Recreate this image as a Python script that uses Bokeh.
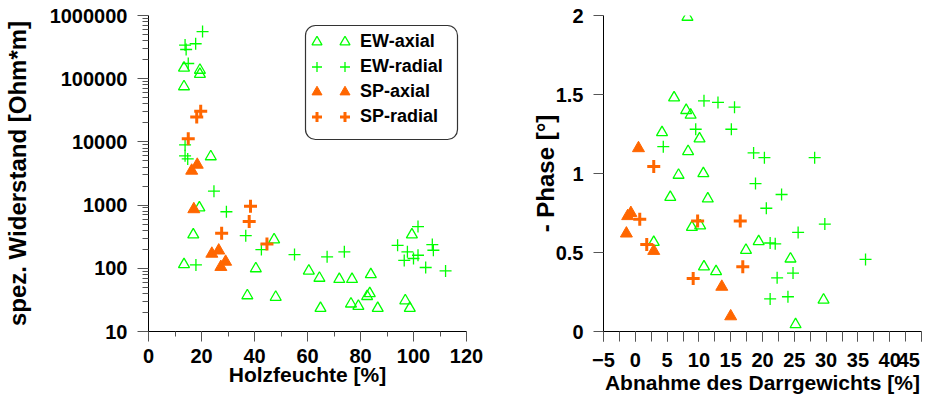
from bokeh.plotting import figure
from bokeh.layouts import row
from bokeh.models import (Legend, LegendItem, BoxAnnotation, SingleIntervalTicker,
                          NumeralTickFormatter, Range1d, FixedTicker)
from bokeh.embed import file_html
from bokeh.resources import INLINE

# ---------------- data: left chart (Holzfeuchte [%] vs spez. Widerstand [Ohm*m]) -------------
ew_axial_moist = [13.4, 19.4, 19.4, 13.4, 23.5, 19.2, 16.9, 47.4, 13.4, 40.5, 60.5, 37.3, 48.0,
                  99.4, 64.5, 72.0, 76.8, 83.9, 83.5, 82.5, 64.9, 76.4, 79.2, 86.5, 96.9, 98.6]
ew_axial_res = [148000, 137000, 118000, 75000, 5860, 910, 340, 284, 115, 99, 91, 37, 35,
                340, 70, 67, 67, 80, 40, 36, 23.4, 27.4, 25.2, 23.4, 30.8, 23.4]

ew_radial_moist = [20.4, 13.8, 17.8, 14.2, 15.0, 13.8, 13.8, 14.8, 24.7, 29.4, 36.7, 42.6, 55.1,
                   17.9, 101.7, 94.0, 107.1, 107.5, 97.7, 73.9, 67.4, 101.7, 100.0, 96.5, 104.6, 112.1]
ew_radial_res = [556000, 340000, 357000, 290000, 174000, 8950, 6030, 5370, 1660, 785, 328, 198, 165,
                 113, 457, 231, 237, 193, 182, 182, 152, 161, 143, 133, 103, 91]

sp_axial_moist = [18.4, 16.3, 17.1, 23.9, 26.5, 29.1, 27.3]
sp_axial_res = [4350, 3500, 860, 170, 191, 127, 105]

sp_radial_moist = [19.7, 18.2, 15.0, 38.5, 38.0, 27.6, 44.7]
sp_radial_res = [30500, 24800, 11200, 960, 550, 360, 243]

# ---------------- data: right chart (Abnahme des Darrgewichts [%] vs - Phase [°]) ------------
ew_axial_loss = [8.2, 6.1, 8.0, 8.7, 4.2, 10.1, 8.3, 6.8, 10.7, 5.5, 11.4, 8.9, 10.2, 2.9,
                 17.4, 19.4, 10.8, 12.7, 24.4, 29.6, 25.2]
ew_axial_phase = [1.99, 1.48, 1.40, 1.37, 1.26, 1.22, 1.14, 0.99, 1.00, 0.85, 0.84, 0.66, 0.67, 0.565,
                  0.515, 0.57, 0.41, 0.38, 0.46, 0.20, 0.044]

ew_radial_loss = [10.8, 13.0, 15.6, 9.5, 15.1, 4.4, 18.6, 20.3, 28.2, 18.9, 23.0, 20.6, 29.8,
                  25.6, 21.2, 22.0, 36.2, 22.3, 24.8, 21.2, 24.0]
ew_radial_phase = [1.46, 1.45, 1.42, 1.28, 1.28, 1.17, 1.13, 1.10, 1.10, 0.936, 0.867, 0.78, 0.68,
                   0.627, 0.56, 0.555, 0.456, 0.34, 0.37, 0.206, 0.22]

sp_axial_loss = [0.5, -0.7, -1.2, -1.4, 2.9, 13.6, 15.0]
sp_axial_phase = [1.16, 0.75, 0.73, 0.62, 0.51, 0.283, 0.096]

sp_radial_loss = [2.9, 0.7, 9.8, 16.5, 1.8, 16.9, 9.1]
sp_radial_phase = [1.045, 0.71, 0.70, 0.70, 0.55, 0.41, 0.335]

# ---------------- labels / ticks ----------------
series_names = ["EW-axial", "EW-radial", "SP-axial", "SP-radial"]
left_xlabel = "Holzfeuchte [%]"
left_ylabel = "spez. Widerstand [Ohm*m]"
right_xlabel = "Abnahme des Darrgewichts [%]"
right_ylabel = "- Phase [°]"
left_y_ticks = [10, 100, 1000, 10000, 100000, 1000000]
right_x_last_tick = 45

GREEN = "#00ff00"
ORANGE = "#ff6600"
FONT = "Liberation Sans"
NBSP = "\u00a0"


def base_axis_style(ax):
    ax.axis_line_color = "black"
    ax.axis_line_width = 1
    ax.major_tick_line_color = "#555555"
    ax.minor_tick_line_color = "#555555"
    ax.major_tick_in = 0
    ax.minor_tick_in = 0
    ax.major_label_text_font = FONT
    ax.major_label_text_font_style = "bold"
    ax.major_label_text_font_size = "20px"
    ax.major_label_text_color = "black"
    ax.axis_label_text_font = FONT
    ax.axis_label_text_font_style = "bold"
    ax.axis_label_text_color = "black"


def add_series(p, xs, ys):
    r1 = p.scatter(xs[0], ys[0], marker="triangle", size=11, line_color=GREEN,
                   fill_color=None, line_width=1.3)
    r2 = p.scatter(xs[1], ys[1], marker="cross", size=12, line_color=GREEN, line_width=1.3)
    r3 = p.scatter(xs[2], ys[2], marker="triangle", size=12, line_color=ORANGE,
                   fill_color=ORANGE, line_width=1)
    r4 = p.scatter(xs[3], ys[3], marker="cross", size=13, line_color=ORANGE, line_width=3)
    return [r1, r2, r3, r4]


def clean(p):
    p.xgrid.visible = False
    p.ygrid.visible = False
    p.outline_line_color = None
    p.background_fill_color = "white"
    p.border_fill_color = "white"


# ---------------- left figure ----------------
p1 = figure(width=486, height=396, x_range=Range1d(0, 120), y_range=Range1d(10, 1000000),
            y_axis_type="log", output_backend="svg", toolbar_location=None,
            min_border_left=147, min_border_right=20, min_border_top=15, min_border_bottom=62)
clean(p1)

rs = add_series(p1, [ew_axial_moist, ew_radial_moist, sp_axial_moist, sp_radial_moist],
                [ew_axial_res, ew_radial_res, sp_axial_res, sp_radial_res])

minor = [k * t for t in left_y_ticks[:-1] for k in range(2, 10)]
p1.yaxis.ticker = FixedTicker(ticks=left_y_ticks, minor_ticks=minor)
p1.yaxis.formatter = NumeralTickFormatter(format="0")
p1.xaxis.ticker = SingleIntervalTicker(interval=20, num_minor_ticks=2)
for ax in (p1.xaxis[0], p1.yaxis[0]):
    base_axis_style(ax)
p1.yaxis.major_tick_out = 11
p1.yaxis.minor_tick_out = 6
p1.yaxis.major_label_standoff = 10
p1.yaxis.axis_label = left_ylabel
p1.yaxis.axis_label_text_font_size = "24px"
p1.yaxis.axis_label_standoff = 16
p1.xaxis.major_tick_out = 10
p1.xaxis.minor_tick_out = 5
p1.xaxis.major_label_standoff = 7
p1.xaxis.axis_label = left_xlabel
p1.xaxis.axis_label_text_font_size = "21px"
p1.xaxis.axis_label_standoff = -3

# legend: two marker columns + labels, rounded box
legend_common = dict(glyph_width=25, glyph_height=25, spacing=0, padding=0, margin=0,
                     label_text_font=FONT, label_text_font_style="bold",
                     label_text_font_size="18px", label_text_color="black",
                     border_line_color=None, background_fill_alpha=0, label_height=25,
                     label_width=0)
leg_a = Legend(items=[LegendItem(label=" ", renderers=[r]) for r in rs],
               location=(156, 202), label_standoff=0, **legend_common)
leg_b = Legend(items=[LegendItem(label=n, renderers=[r]) for n, r in zip(series_names, rs)],
               location=(184, 202), label_standoff=3, **legend_common)
p1.add_layout(leg_a)
p1.add_layout(leg_b)
box = BoxAnnotation(left=305, right=457, top=25, bottom=139,
                    left_units="canvas", right_units="canvas",
                    top_units="canvas", bottom_units="canvas",
                    border_radius=10, fill_alpha=0, line_color="#333333",
                    line_width=1.2, line_alpha=1)
p1.add_layout(box)

# ---------------- right figure ----------------
p2 = figure(width=439, height=396, x_range=Range1d(-5, 45), y_range=Range1d(0, 2),
            output_backend="svg", toolbar_location=None,
            min_border_left=117, min_border_right=4, min_border_top=15, min_border_bottom=62)
clean(p2)

add_series(p2, [ew_axial_loss, ew_radial_loss, sp_axial_loss, sp_radial_loss],
           [ew_axial_phase, ew_radial_phase, sp_axial_phase, sp_radial_phase])

p2.xaxis.ticker = SingleIntervalTicker(interval=5, num_minor_ticks=2)
p2.yaxis.ticker = SingleIntervalTicker(interval=0.5, num_minor_ticks=0)
p2.yaxis.formatter = NumeralTickFormatter(format="0.[0]")
for ax in (p2.xaxis[0], p2.yaxis[0]):
    base_axis_style(ax)
p2.xaxis.major_tick_out = 10
p2.xaxis.minor_tick_out = 10
p2.xaxis.major_label_standoff = 7
# the last label sits a little left of its tick (as in the original) so it stays inside
p2.xaxis.major_label_overrides = {right_x_last_tick: str(right_x_last_tick) + NBSP}
p2.xaxis.axis_label = right_xlabel
p2.xaxis.axis_label_text_font_size = "21px"
p2.xaxis.axis_label_standoff = -3
p2.yaxis.major_tick_out = 10
p2.yaxis.major_label_standoff = 10
p2.yaxis.axis_label = right_ylabel
p2.yaxis.axis_label_text_font_size = "24px"
p2.yaxis.axis_label_standoff = -6

layout = row(p1, p2)
open("out.html", "w").write(file_html(layout, INLINE))
